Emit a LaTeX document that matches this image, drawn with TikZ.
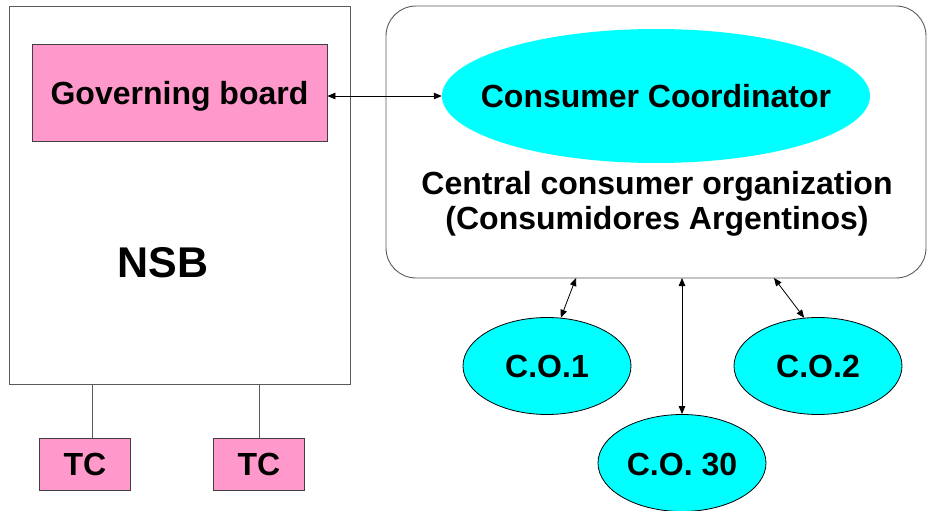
\documentclass[tikz,border=0pt]{standalone}
\usepackage{fontspec}
\setmainfont{Liberation Sans}
\usetikzlibrary{shapes.geometric,arrows.meta}
\definecolor{boardpink}{HTML}{FF99CC}
\definecolor{coordcyan}{HTML}{00FFFF}
\definecolor{framegray}{HTML}{5A5A5A}
\begin{document}
\begin{tikzpicture}[x=1pt,y=-1pt,
  every node/.style={font=\bfseries\fontsize{32}{35}\selectfont, inner sep=0pt},
  frame/.style={draw=framegray, line width=0.9pt},
  pinkbox/.style={draw=black!75, fill=boardpink, line width=0.8pt},
  orgell/.style={ellipse, draw=black, fill=coordcyan, line width=0.8pt,
                 minimum width=168pt, minimum height=97pt},
  link/.style={{Triangle[length=8pt,width=6.5pt]}-{Triangle[length=8pt,width=6.5pt]}, line width=0.8pt},
  tie/.style={draw=framegray, line width=0.9pt}]
\useasboundingbox (0,0) rectangle (927,511);

% national standards body
\node[frame, minimum width=341pt, minimum height=378pt] (nsb) at (179.5,195) {};
\node[pinkbox, minimum width=295pt, minimum height=97pt] (gov) at (179.5,92.5) {};
\node (govlabel) at (179.5,96) {Governing board};
\node[font=\bfseries\fontsize{43}{46}\selectfont] (nsblabel) at (163,263) {NSB};

% technical committees
\node[pinkbox, minimum width=91pt, minimum height=52pt] (tc1) at (85,464) {TC};
\node[pinkbox, minimum width=91pt, minimum height=52pt] (tc2) at (259,464) {TC};
\draw[tie] ([xshift=7.5pt]tc1.north) -- ([xshift=7.5pt]tc1.north |- nsb.south);
\draw[tie] (tc2.north) -- (tc2.north |- nsb.south);

% central consumer organization
\node[frame, rounded corners=30pt, minimum width=540pt, minimum height=272pt] (central) at (656,142) {};
\node[ellipse, fill=coordcyan, minimum width=428pt, minimum height=134pt] (coord) at (656,96) {};
\node (coordlabel) at (coord.center) {Consumer Coordinator};
\node[align=center] (centrallabel) at (657,204) {Central consumer organization\\(Consumidores Argentinos)};

% member organizations
\node[orgell] (co1) at (547,366) {};
\node[orgell] (co2) at (818,366) {};
\node[orgell] (co30) at (682,463) {};
\node (co1label) at (co1.center) {C.O.1};
\node (co2label) at (co2.center) {C.O.2};
\node (co30label) at ([yshift=-2pt]co30.center) {C.O. 30};

\coordinate (p1) at (576,278);
\coordinate (p30) at (682,278);
\coordinate (p2) at (774,278);

\draw[link] (coord.west -| gov.east) -- (coord.west);
\draw[link] (p1) -- (co1.74);
\draw[link] (p30) -- (co30.north);
\draw[link] (p2) -- (co2.106);
\end{tikzpicture}
\end{document}
